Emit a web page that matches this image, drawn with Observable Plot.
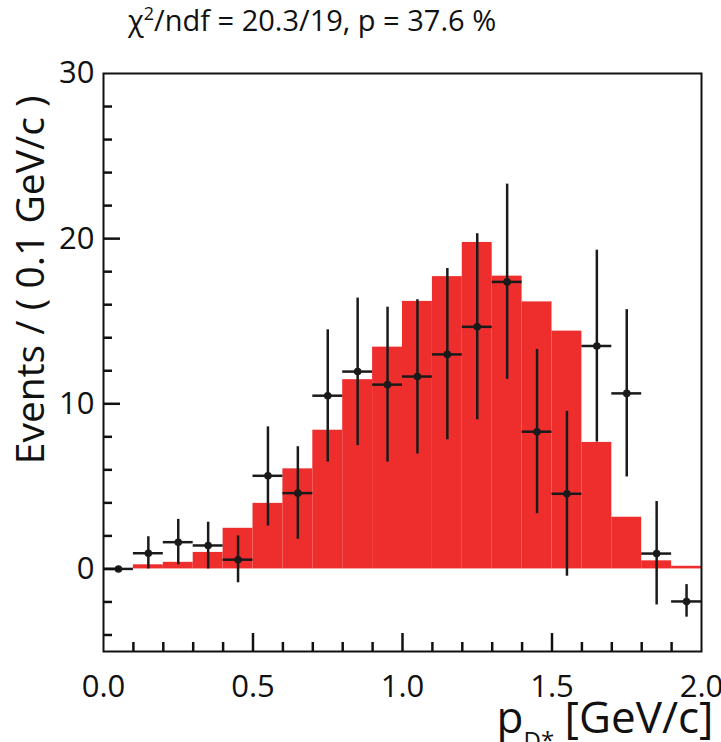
<!DOCTYPE html>
<html><head><meta charset="utf-8">
<script src="https://cdn.jsdelivr.net/npm/d3@7"></script>
<script src="https://cdn.jsdelivr.net/npm/@observablehq/plot@0.6"></script>
<style>
body{margin:0;background:#fff;}
#title{height:45px; padding-left:128px; font: 29px "Open Sans"; line-height:40px; color:#111; white-space:nowrap; box-sizing:border-box; overflow:visible}
#title sup{font-size:0.62em; line-height:0; vertical-align:0.6em}
</style></head><body>
<div id="title">χ<sup>2</sup>/ndf = 20.3/19, p = 37.6 %</div>
<div id="chart"></div>
<script>
// Fit histogram (red) : bins of 0.1 GeV/c
const binLow  = [0.0,0.1,0.2,0.3,0.4,0.5,0.6,0.7,0.8,0.9,1.0,1.1,1.2,1.3,1.4,1.5,1.6,1.7,1.8,1.9];
const binHigh = [0.1,0.2,0.3,0.4,0.5,0.6,0.7,0.8,0.9,1.0,1.1,1.2,1.3,1.4,1.5,1.6,1.7,1.8,1.9,2.0];
const fitValues = [0.0,0.25,0.4,1.0,2.46,3.97,6.06,8.4,11.46,13.43,16.2,17.7,19.77,17.73,16.17,14.4,7.66,3.13,0.49,0.16];

// Data points with asymmetric errors
const dataX   = [0.05,0.15,0.25,0.35,0.45,0.55,0.65,0.75,0.85,0.95,1.05,1.15,1.25,1.35,1.45,1.55,1.65,1.75,1.85,1.95];
const dataY   = [0,0.95,1.62,1.42,0.56,5.64,4.59,10.49,11.95,11.16,11.65,12.99,14.66,17.38,8.31,4.55,13.5,10.63,0.93,-1.97];
const errLow  = [0,0.95,1.37,1.42,1.40,3.04,2.80,4.02,4.48,4.69,4.69,5.17,5.63,5.90,4.97,4.99,5.82,5.06,3.11,0.95];
const errHigh = [0,1.00,1.38,1.41,1.44,2.96,2.81,3.99,4.45,4.69,4.65,5.20,5.64,5.92,4.98,4.99,5.80,5.07,3.15,1.02];
const halfWidth = 0.05;

// Axis ticks
const xTickLabels = [0.0,0.5,1.0,1.5,2.0];
const xMajorTicks = [0.5,1.0,1.5];
const xMinorTicks = [0.1,0.2,0.3,0.4,0.6,0.7,0.8,0.9,1.1,1.2,1.3,1.4,1.6,1.7,1.8,1.9];
const yTickLabels = [0,10,20,30];
const yMajorTicks = [0,10,20];
const yMinorTicks = [-4,-2,2,4,6,8,12,14,16,18,22,24,26,28];

const yLabel = "Events / ( 0.1 GeV/c )";

const xDomain = [0,2], yDomain = [-5,30];
const hist = binLow.map((x1,i)=>({x1, x2: binHigh[i], y: fitValues[i]}));
const pts = dataX.map((x,i)=>({x, y: dataY[i], lo: dataY[i]-errLow[i], hi: dataY[i]+errHigh[i], xl: x-halfWidth, xh: x+halfWidth}));

const W = 721, H = 697, mL = 103, mR = 20, mT = 28, mB = 91;
const fw = W - mL - mR, fh = H - mT - mB;
// tick lengths given in pixels, converted to data units
const xPerPx = (xDomain[1]-xDomain[0]) / fw, yPerPx = (yDomain[1]-yDomain[0]) / fh;
const plot = Plot.plot({
  width: W, height: H,
  marginLeft: mL, marginRight: mR, marginTop: mT, marginBottom: mB,
  style: {fontFamily: "Open Sans", background: "#fff", color: "#111", overflow: "visible"},
  x: {domain: xDomain, axis: null},
  y: {domain: yDomain, axis: null},
  marks: [
    Plot.rectY(hist, {x1:"x1", x2:"x2", y1:0, y2:"y", fill:"#ee2d2d"}),
    Plot.ruleX(pts.filter(d=>d.hi>d.lo), {x:"x", y1:"lo", y2:"hi", stroke:"#1a1a1a", strokeWidth:2.5}),
    Plot.ruleY(pts, {y:"y", x1:"xl", x2:"xh", stroke:"#1a1a1a", strokeWidth:2.5}),
    Plot.dot(pts, {x:"x", y:"y", r:3.8, fill:"#1a1a1a"}),
    Plot.frame({stroke:"#111", strokeWidth:2}),
    // inward ticks
    Plot.ruleY(yMajorTicks, {y:d=>d, x1:xDomain[0], x2:xDomain[0]+17*xPerPx, stroke:"#111", strokeWidth:2.5}),
    Plot.ruleY(yMinorTicks, {y:d=>d, x1:xDomain[0], x2:xDomain[0]+9*xPerPx, stroke:"#111", strokeWidth:2.5}),
    Plot.ruleX(xMajorTicks, {x:d=>d, y1:yDomain[0], y2:yDomain[0]+18*yPerPx, stroke:"#111", strokeWidth:2.5}),
    Plot.ruleX(xMinorTicks, {x:d=>d, y1:yDomain[0], y2:yDomain[0]+9*yPerPx, stroke:"#111", strokeWidth:2.5}),
    // tick labels
    Plot.axisY(yTickLabels, {anchor:"left", tickSize:0, tickPadding:9, tickFormat:d=>String(d), label:null, fontSize:31}),
    Plot.axisX(xTickLabels, {anchor:"bottom", tickSize:0, tickPadding:23, tickFormat:d=>d.toFixed(1), label:null, fontSize:31}),
    // axis titles
    Plot.text([yLabel], {text:d=>d, frameAnchor:"top-left", rotate:-90, textAnchor:"end", dx:-87, dy:22, fontSize:39}),
    Plot.text(["[GeV/c]"], {text:d=>d, frameAnchor:"bottom-right", textAnchor:"end", dx:12, dy:81, fontSize:44}),
    Plot.text(["p"], {text:d=>d, frameAnchor:"bottom-right", textAnchor:"end", dx:-178, dy:81, fontSize:44}),
    Plot.text(["D*"], {text:d=>d, frameAnchor:"bottom-right", textAnchor:"start", dx:-178, dy:97, fontSize:24})
  ]
});
document.getElementById("chart").appendChild(plot);
</script>
</body></html>
